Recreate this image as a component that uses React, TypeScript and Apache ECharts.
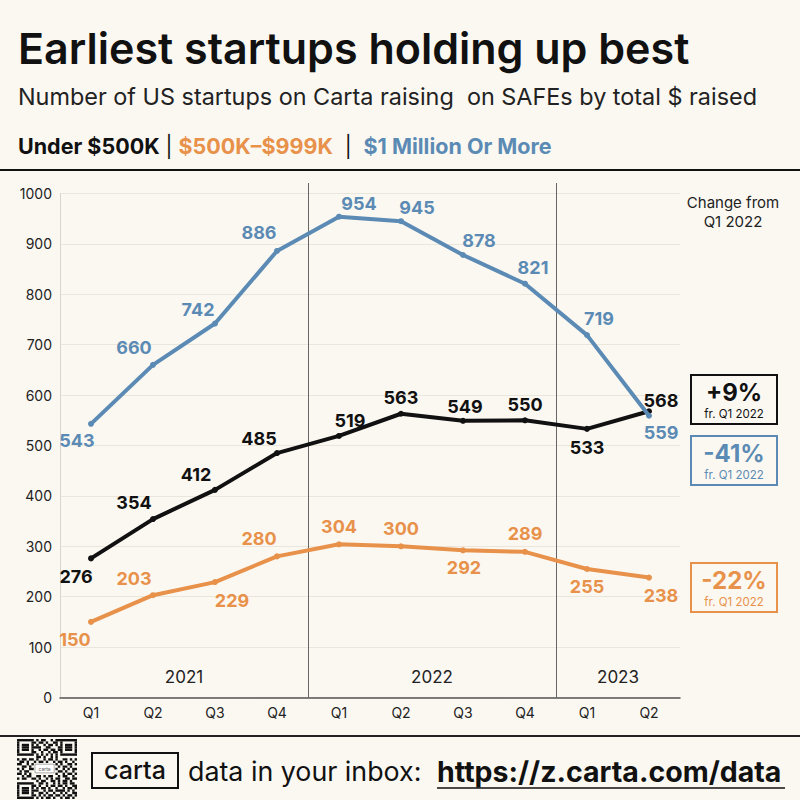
import React, { useEffect, useRef } from 'react';
import * as echarts from 'echarts';

const quarters = ['Q1', 'Q2', 'Q3', 'Q4', 'Q1', 'Q2', 'Q3', 'Q4', 'Q1', 'Q2'];
const years = ['2021', '2022', '2023'];
const yearStartIdx = [0, 4, 8];
const yearEndIdx = [3, 7, 9];
const under500k = [276, 354, 412, 485, 519, 563, 549, 550, 533, 568];
const mid500kTo999k = [150, 203, 229, 280, 304, 300, 292, 289, 255, 238];
const over1m = [543, 660, 742, 886, 954, 945, 878, 821, 719, 559];
const seriesNames = ['Under $500K', '$500K–$999K', '$1 Million Or More'];
const changeValues = ['+9%', '-41%', '-22%'];
const changeNote = 'fr. Q1 2022';

// label offsets (style only)
const offBlack: number[][] = [[-15, 18], [-19, -17], [-19, -15], [-18, -15], [11, -15], [0, -16], [2, -14], [0, -16], [0, 19], [12, -11]];
const offOrange: number[][] = [[-16, 18], [-19, -17], [17, 18], [-18, -18], [0, -18], [0, -18], [1, 17], [0, -18], [0, 18], [12, 18]];
const offBlue: number[][] = [[-14, 17], [-19, -17], [-17, -14], [-18, -18], [20, -13], [16, -14], [16, -14], [8, -16], [12, -17], [12, 17]];

const qrRows = [
  '1111111010110010111111111',
  '1000001101101001101000001',
  '1011101010010110101011101',
  '1011101111001100011011101',
  '1011101001011011011011101',
  '1000001100100101101000001',
  '1111111010101010101111111',
  '0000000011010010100000000',
  '1011011010010110100110101',
  '0110100101101001011010010',
  '1100101000000000101001101',
  '0011010000000000010110100',
  '1010011000000000100101011',
  '0101100000000000011010010',
  '1101010000000000100101101',
  '0010110011010110010110010',
  '1011001101001010110011011',
  '0000000010110011010110100',
  '1111111001101001010110110',
  '1000001101001011011010011',
  '1011101010110100100101101',
  '1011101110010110111101010',
  '1011101001101001001010011',
  '1000001101010110110101101',
  '1111111010101101001011010',
];

const FONT = 'Inter';
const BLACK = '#111111';
const ORANGE = '#e8914a';
const BLUE = '#5b8bb4';
const BG = '#fbf8f2';

function makeSeries(name: string, values: number[], color: string, offs: number[][], z: number) {
  return {
    name,
    type: 'line',
    z,
    symbol: 'circle',
    symbolSize: 6,
    lineStyle: { width: 4, color },
    itemStyle: { color },
    data: values.map((v, i) => ({
      value: v,
      label: { offset: offs[i] },
    })),
    label: {
      show: true,
      position: 'inside',
      color,
      fontFamily: FONT,
      fontSize: 18,
      fontWeight: 'bold',
    },
  };
}

export default function App() {
  const ref = useRef<HTMLDivElement>(null);
  useEffect(() => {
    document.body.style.margin = '0';
    const chart = echarts.init(ref.current!, null, { renderer: 'svg' });
    const option: any = {
      animation: false,
      backgroundColor: BG,
      grid: { left: 60, right: 120, top: 193.5, bottom: 102.5, containLabel: false },
      xAxis: {
        type: 'category',
        data: quarters,
        boundaryGap: true,
        axisLine: { lineStyle: { color: '#555', width: 1.5 } },
        axisTick: { show: false },
        axisLabel: { color: '#222', fontSize: 14, margin: 8, fontFamily: FONT },
        splitLine: { show: false },
      },
      yAxis: {
        type: 'value',
        min: 0,
        max: 1000,
        interval: 100,
        axisLine: { show: true, lineStyle: { color: '#d9d5cd', width: 1 } },
        axisTick: { show: false },
        axisLabel: { color: '#222', fontSize: 14, margin: 8, fontFamily: FONT, formatter: (v: number) => String(v) },
        splitLine: { lineStyle: { color: '#ebe6dc', width: 1 } },
      },
      series: [
        makeSeries(seriesNames[0], under500k, BLACK, offBlack, 3),
        makeSeries(seriesNames[1], mid500kTo999k, ORANGE, offOrange, 2),
        makeSeries(seriesNames[2], over1m, BLUE, offBlue, 4),
      ],
    };
    chart.setOption(option);

    const px = (i: number) => chart.convertToPixel({ xAxisIndex: 0 }, i) as number;
    const py = (v: number) => chart.convertToPixel({ yAxisIndex: 0 }, v) as number;
    const y0 = py(0);
    const step = px(1) - px(0);
    const g: any[] = [];

    // header / footer rules
    g.push({ type: 'line', shape: { x1: 0, y1: 170, x2: 800, y2: 170 }, style: { stroke: '#111', lineWidth: 2 } });
    g.push({ type: 'line', shape: { x1: 0, y1: 736, x2: 800, y2: 736 }, style: { stroke: '#222', lineWidth: 2 } });

    // title texts
    g.push({ type: 'text', style: { x: 18, y: 48, text: 'Earliest startups holding up best', fill: '#111', font: `600 43px ${FONT}`, textVerticalAlign: 'middle' } });
    g.push({ type: 'text', style: { x: 18, y: 96, text: 'Number of US startups on Carta raising  on SAFEs by total $ raised', fill: '#222', font: `400 23.4px ${FONT}`, textVerticalAlign: 'middle' } });
    g.push({
      type: 'text',
      style: {
        x: 18, y: 146, textVerticalAlign: 'middle',
        text: `{a|${seriesNames[0]}}{s| | }{o|${seriesNames[1]}}{s|  |  }{b|${seriesNames[2]}}`,
        rich: {
          a: { fill: BLACK, font: `700 21.5px ${FONT}` },
          o: { fill: ORANGE, font: `700 21.5px ${FONT}` },
          b: { fill: BLUE, font: `700 21.5px ${FONT}` },
          s: { fill: BLACK, font: `400 21px ${FONT}` },
        },
      },
    });

    // year separators and labels
    for (let k = 1; k < yearStartIdx.length; k++) {
      const x = Math.round(px(yearStartIdx[k]) - step / 2) + 0.5;
      g.push({ type: 'line', z: 1, shape: { x1: x, y1: 183, x2: x, y2: y0 }, style: { stroke: '#666', lineWidth: 1 } });
    }
    years.forEach((yr, k) => {
      const xl = px(yearStartIdx[k]) - step / 2;
      const xr = px(yearEndIdx[k]) + step / 2;
      g.push({ type: 'text', style: { x: (xl + xr) / 2, y: y0 - 21, text: yr, fill: '#222', font: `400 17px ${FONT}`, textAlign: 'center', textVerticalAlign: 'middle' } });
    });

    // change header
    g.push({ type: 'text', style: { x: 733, y: 212, text: 'Change from\nQ1 2022', fill: '#222', font: `400 15px ${FONT}`, lineHeight: 19, textAlign: 'center', textVerticalAlign: 'middle' } });

    const boxTops = [375, 436, 563];
    const boxColors = [BLACK, BLUE, ORANGE];
    changeValues.forEach((cv, k) => {
      const t = boxTops[k];
      g.push({ type: 'rect', shape: { x: 691, y: t, width: 86, height: 49 }, style: { fill: 'none', stroke: boxColors[k], lineWidth: 2 } });
      g.push({ type: 'text', style: { x: 734, y: t + 17, text: cv, fill: boxColors[k], font: `700 24px ${FONT}`, lineHeight: 24, textAlign: 'center', textVerticalAlign: 'middle' } });
      g.push({ type: 'text', style: { x: 734, y: t + 38.5, text: changeNote, fill: boxColors[k], font: `400 11.5px ${FONT}`, lineHeight: 12, textAlign: 'center', textVerticalAlign: 'middle' } });
    });

    // QR code (decorative)
    const qx = 17, qy = 739, m = 2.4;
    qrRows.forEach((row, r) => {
      let c = 0;
      while (c < row.length) {
        if (row[c] === '1') {
          let e = c;
          while (e < row.length && row[e] === '1') e++;
          g.push({ type: 'rect', shape: { x: qx + c * m, y: qy + r * m, width: (e - c) * m, height: m }, style: { fill: '#111' } });
          c = e;
        } else c++;
      }
    });
    g.push({ type: 'rect', shape: { x: qx + 7.5 * m, y: qy + 10.5 * m, width: 8 * m, height: 3.6 * m }, style: { fill: '#fff', stroke: '#777', lineWidth: 0.6 } });
    g.push({ type: 'text', style: { x: qx + 11.5 * m, y: qy + 12.3 * m, text: 'carta', fill: '#555', font: `400 5px ${FONT}`, textAlign: 'center', textVerticalAlign: 'middle' } });

    // footer
    g.push({ type: 'rect', shape: { x: 92, y: 753, width: 86, height: 35 }, style: { fill: 'none', stroke: '#111', lineWidth: 2 } });
    g.push({ type: 'text', style: { x: 135, y: 770, text: 'carta', fill: '#111', font: `500 25px ${FONT}`, textAlign: 'center', textVerticalAlign: 'middle' } });
    g.push({ type: 'text', style: { x: 188, y: 771, text: 'data in your inbox:', fill: '#111', font: `400 26.8px ${FONT}`, textVerticalAlign: 'middle' } });
    g.push({ type: 'text', style: { x: 437, y: 771, text: 'https://z.carta.com/data', fill: '#111', font: `700 28.5px ${FONT}`, textVerticalAlign: 'middle' } });
    g.push({ type: 'line', shape: { x1: 437, y1: 788, x2: 785, y2: 788 }, style: { stroke: '#111', lineWidth: 1.5 } });

    chart.setOption({ graphic: g });
    return () => chart.dispose();
  }, []);
  return <div ref={ref} style={{ width: 800, height: 800 }} />;
}
